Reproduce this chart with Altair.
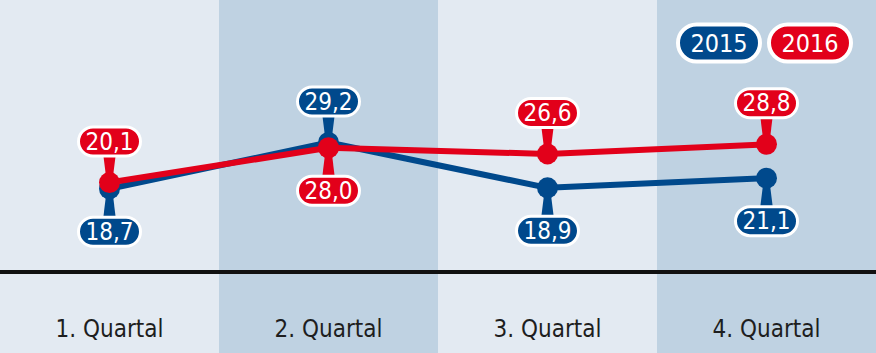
import altair as alt
import pandas as pd

quarters = ["1. Quartal", "2. Quartal", "3. Quartal", "4. Quartal"]
years = ["2015", "2016"]
values_2015 = [18.7, 29.2, 18.9, 21.1]
values_2016 = [20.1, 28.0, 26.6, 28.8]

BLUE = "#00498c"
RED = "#e2001a"
LIGHT = "#e3eaf2"
DARK = "#bfd2e2"
W, H = 876, 353
FONT = "DejaVu Sans Condensed"
series_colors = {"2015": BLUE, "2016": RED}

df = pd.DataFrame({
    "quarter": quarters * 2,
    "year": [years[0]] * 4 + [years[1]] * 4,
    "value": values_2015 + values_2016,
})


def pill(w, h):
    r = h / w
    s = 1 - r
    return (f"M {-s},{-r} L {s},{-r} A {r},{r} 0 0 1 {s},{r} "
            f"L {-s},{r} A {r},{r} 0 0 1 {-s},{-r} Z")


LABEL_PILL = pill(62, 29)
LEGEND_PILL = pill(82, 37)
CONN_UP = "M -0.55,-1 L 0.55,-1 L 0.3,1 L -0.3,1 Z"
CONN_DOWN = "M -0.3,-1 L 0.3,-1 L 0.55,1 L -0.55,1 Z"

xscale = alt.Scale(type="band", domain=quarters, paddingInner=0, paddingOuter=0)
x_band = alt.X("quarter:N", scale=xscale, axis=None)
x_mid = alt.X("quarter:N", scale=xscale, axis=None, bandPosition=0.5)
y_enc = alt.Y("value:Q", scale=alt.Scale(domain=[-18.64, 61.59], nice=False, zero=False), axis=None)

qdf = pd.DataFrame({"quarter": quarters})

background = alt.Chart(qdf).mark_rect().encode(
    x=x_band,
    y=alt.value(0),
    y2=alt.value(H),
    fill=alt.Fill("quarter:N", scale=alt.Scale(domain=quarters, range=[LIGHT, DARK, LIGHT, DARK]), legend=None),
)

baseline = alt.Chart(pd.DataFrame({"value": [0]})).mark_rule(color="#111111", strokeWidth=4, yOffset=1).encode(
    x=alt.value(0), x2=alt.value(W), y=y_enc
)

qlabels = alt.Chart(qdf).mark_text(font=FONT, fontSize=24, color="#1e1e1e", baseline="middle").encode(
    x=x_mid, y=alt.value(330), text="quarter:N"
)

base = alt.Chart(df).transform_joinaggregate(
    maxv="max(value)", groupby=["quarter"]
).transform_calculate(
    side="datum.value == datum.maxv ? 'above' : 'below'",
    label="replace(format(datum.value, '.1f'), '.', ',')",
)

layers = [background, baseline, qlabels]
for yr in years:
    col = series_colors[yr]
    b = base.transform_filter(alt.datum.year == yr)
    layers.append(b.mark_line(color=col, strokeWidth=6, strokeJoin="round").encode(x=x_mid, y=y_enc))
    layers.append(b.mark_circle(color=col, size=440, opacity=1).encode(x=x_mid, y=y_enc))
    for side, conn, coff, boff in [("above", CONN_UP, -16, -41), ("below", CONN_DOWN, 17, 43)]:
        s = b.transform_filter(alt.datum.side == side)
        layers.append(s.mark_point(shape=conn, size=500, filled=True, fill=col, strokeWidth=0, opacity=1,
                                   yOffset=coff).encode(x=x_mid, y=y_enc))
        layers.append(s.mark_point(shape=LABEL_PILL, size=62 * 62, filled=True, fill=col, stroke="white",
                                   strokeWidth=3, opacity=1, yOffset=boff).encode(x=x_mid, y=y_enc))
        layers.append(s.mark_text(font=FONT, fontSize=24, color="white", baseline="middle",
                                  dy=boff + 1).encode(x=x_mid, y=y_enc, text="label:N"))

legend_pos = {"2015": 719, "2016": 810}
for yr in years:
    ld = alt.Chart(pd.DataFrame({"year": [yr]}))
    layers.append(ld.mark_point(shape=LEGEND_PILL, size=82 * 82, filled=True, fill=series_colors[yr],
                                stroke="white", strokeWidth=4, opacity=1).encode(
        x=alt.value(legend_pos[yr]), y=alt.value(43)))
    layers.append(ld.mark_text(font=FONT, fontSize=25, color="white", baseline="middle").encode(
        x=alt.value(legend_pos[yr]), y=alt.value(44), text="year:N"))

chart = alt.layer(*layers).properties(
    width=W, height=H, autosize=alt.AutoSizeParams(type="none"), padding=0
).configure_view(stroke=None)

chart.save("out.html", embed_options={"renderer": "svg", "actions": False})
